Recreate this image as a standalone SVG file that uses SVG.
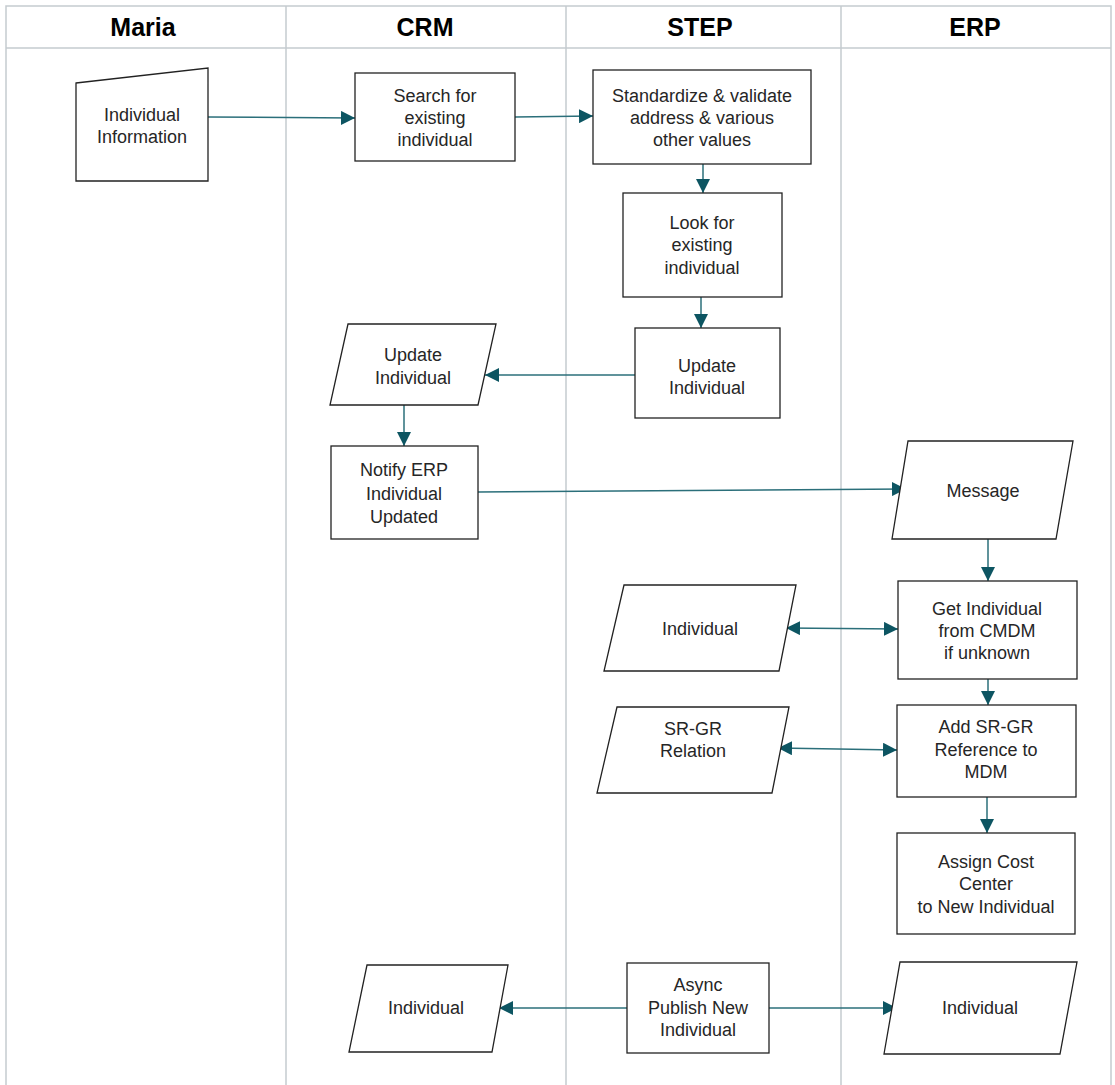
<svg xmlns="http://www.w3.org/2000/svg" width="1115" height="1085" viewBox="0 0 1115 1085">
<style>
.lane{stroke:#c5cbcf;stroke-width:1.5;fill:none}
.hdr{font-family:"Liberation Sans",Arial,sans-serif;font-weight:bold;font-size:25px;fill:#000;text-anchor:middle}
.node{fill:#fff;stroke:#222;stroke-width:1.3}
.t{font-family:"Liberation Sans",Arial,sans-serif;font-size:18px;fill:#262626;text-anchor:middle}
.c{stroke:#2b6f7a;stroke-width:1.5;fill:none}
</style>
<defs>
<marker id="ah" viewBox="0 0 14 14" refX="14" refY="7" markerWidth="14" markerHeight="14" markerUnits="userSpaceOnUse" orient="auto-start-reverse">
<path d="M0,0 L14,7 L0,14 z" fill="#0d5562"/>
</marker>
</defs>
<rect width="1115" height="1085" fill="#fff"/>
<g id="lanes">
<rect class="lane" x="6" y="6" width="1105" height="1090"/>
<line class="lane" x1="6" y1="48" x2="1111" y2="48"/>
<line class="lane" x1="286" y1="6" x2="286" y2="1085"/>
<line class="lane" x1="566" y1="6" x2="566" y2="1085"/>
<line class="lane" x1="841" y1="6" x2="841" y2="1085"/>
<text class="hdr" x="143" y="36">Maria</text>
<text class="hdr" x="425" y="36">CRM</text>
<text class="hdr" x="700" y="36">STEP</text>
<text class="hdr" x="975" y="36">ERP</text>
</g>
<g id="connectors">
<line class="c" x1="208" y1="117" x2="355" y2="118" marker-end="url(#ah)"/>
<line class="c" x1="515" y1="117" x2="593" y2="116" marker-end="url(#ah)"/>
<line class="c" x1="703" y1="164" x2="703" y2="193" marker-end="url(#ah)"/>
<line class="c" x1="701" y1="297" x2="701" y2="328" marker-end="url(#ah)"/>
<line class="c" x1="635" y1="375" x2="485" y2="375" marker-end="url(#ah)"/>
<line class="c" x1="404" y1="405" x2="404" y2="446" marker-end="url(#ah)"/>
<line class="c" x1="478" y1="492" x2="906" y2="489" marker-end="url(#ah)"/>
<line class="c" x1="988" y1="539" x2="988" y2="581" marker-end="url(#ah)"/>
<line class="c" x1="786" y1="628" x2="898" y2="629" marker-start="url(#ah)" marker-end="url(#ah)"/>
<line class="c" x1="988" y1="679" x2="988" y2="705" marker-end="url(#ah)"/>
<line class="c" x1="778" y1="748" x2="897" y2="750" marker-start="url(#ah)" marker-end="url(#ah)"/>
<line class="c" x1="987" y1="797" x2="987" y2="833" marker-end="url(#ah)"/>
<line class="c" x1="627" y1="1008" x2="499" y2="1008" marker-end="url(#ah)"/>
<line class="c" x1="769" y1="1008" x2="897" y2="1008" marker-end="url(#ah)"/>
</g>
<g id="n-individual-info">
<polygon class="node" points="76,83 208,68 208,181 76,181"/>
<text class="t" x="142" y="121">Individual</text>
<text class="t" x="142" y="143">Information</text>
</g>
<g id="n-search">
<rect class="node" x="355" y="73" width="160" height="88"/>
<text class="t" x="435" y="102">Search for</text>
<text class="t" x="435" y="124">existing</text>
<text class="t" x="435" y="146">individual</text>
</g>
<g id="n-standardize">
<rect class="node" x="593" y="70" width="218" height="94"/>
<text class="t" x="702" y="102">Standardize &amp; validate</text>
<text class="t" x="702" y="124">address &amp; various</text>
<text class="t" x="702" y="146">other values</text>
</g>
<g id="n-lookfor">
<rect class="node" x="623" y="193" width="159" height="104"/>
<text class="t" x="702" y="229">Look for</text>
<text class="t" x="702" y="251">existing</text>
<text class="t" x="702" y="274">individual</text>
</g>
<g id="n-update-step">
<rect class="node" x="635" y="328" width="145" height="90"/>
<text class="t" x="707" y="372">Update</text>
<text class="t" x="707" y="394">Individual</text>
</g>
<g id="n-update-crm">
<polygon class="node" points="348,324 496,324 478,405 330,405"/>
<text class="t" x="413" y="361">Update</text>
<text class="t" x="413" y="384">Individual</text>
</g>
<g id="n-notify">
<rect class="node" x="331" y="446" width="147" height="93"/>
<text class="t" x="404" y="476">Notify ERP</text>
<text class="t" x="404" y="500">Individual</text>
<text class="t" x="404" y="523">Updated</text>
</g>
<g id="n-message">
<polygon class="node" points="908,441 1073,441 1056,539 892,539"/>
<text class="t" x="983" y="497">Message</text>
</g>
<g id="n-getindividual">
<rect class="node" x="898" y="581" width="179" height="98"/>
<text class="t" x="987" y="615">Get Individual</text>
<text class="t" x="987" y="637">from CMDM</text>
<text class="t" x="987" y="659">if unknown</text>
</g>
<g id="n-individual-step">
<polygon class="node" points="624,585 796,585 779,671 604,671"/>
<text class="t" x="700" y="635">Individual</text>
</g>
<g id="n-addsrgr">
<rect class="node" x="897" y="705" width="179" height="92"/>
<text class="t" x="986" y="733">Add SR-GR</text>
<text class="t" x="986" y="756">Reference to</text>
<text class="t" x="986" y="778">MDM</text>
</g>
<g id="n-srgr-relation">
<polygon class="node" points="617,707 789,707 772,793 597,793"/>
<text class="t" x="693" y="735">SR-GR</text>
<text class="t" x="693" y="757">Relation</text>
</g>
<g id="n-assign">
<rect class="node" x="897" y="833" width="178" height="101"/>
<text class="t" x="986" y="868">Assign Cost</text>
<text class="t" x="986" y="890">Center</text>
<text class="t" x="986" y="913">to New Individual</text>
</g>
<g id="n-async">
<rect class="node" x="627" y="963" width="142" height="90"/>
<text class="t" x="698" y="991">Async</text>
<text class="t" x="698" y="1014">Publish New</text>
<text class="t" x="698" y="1036">Individual</text>
</g>
<g id="n-individual-crm">
<polygon class="node" points="367,965 508,965 492,1052 349,1052"/>
<text class="t" x="426" y="1014">Individual</text>
</g>
<g id="n-individual-erp">
<polygon class="node" points="900,962 1077,962 1060,1054 884,1054"/>
<text class="t" x="980" y="1014">Individual</text>
</g>
</svg>
